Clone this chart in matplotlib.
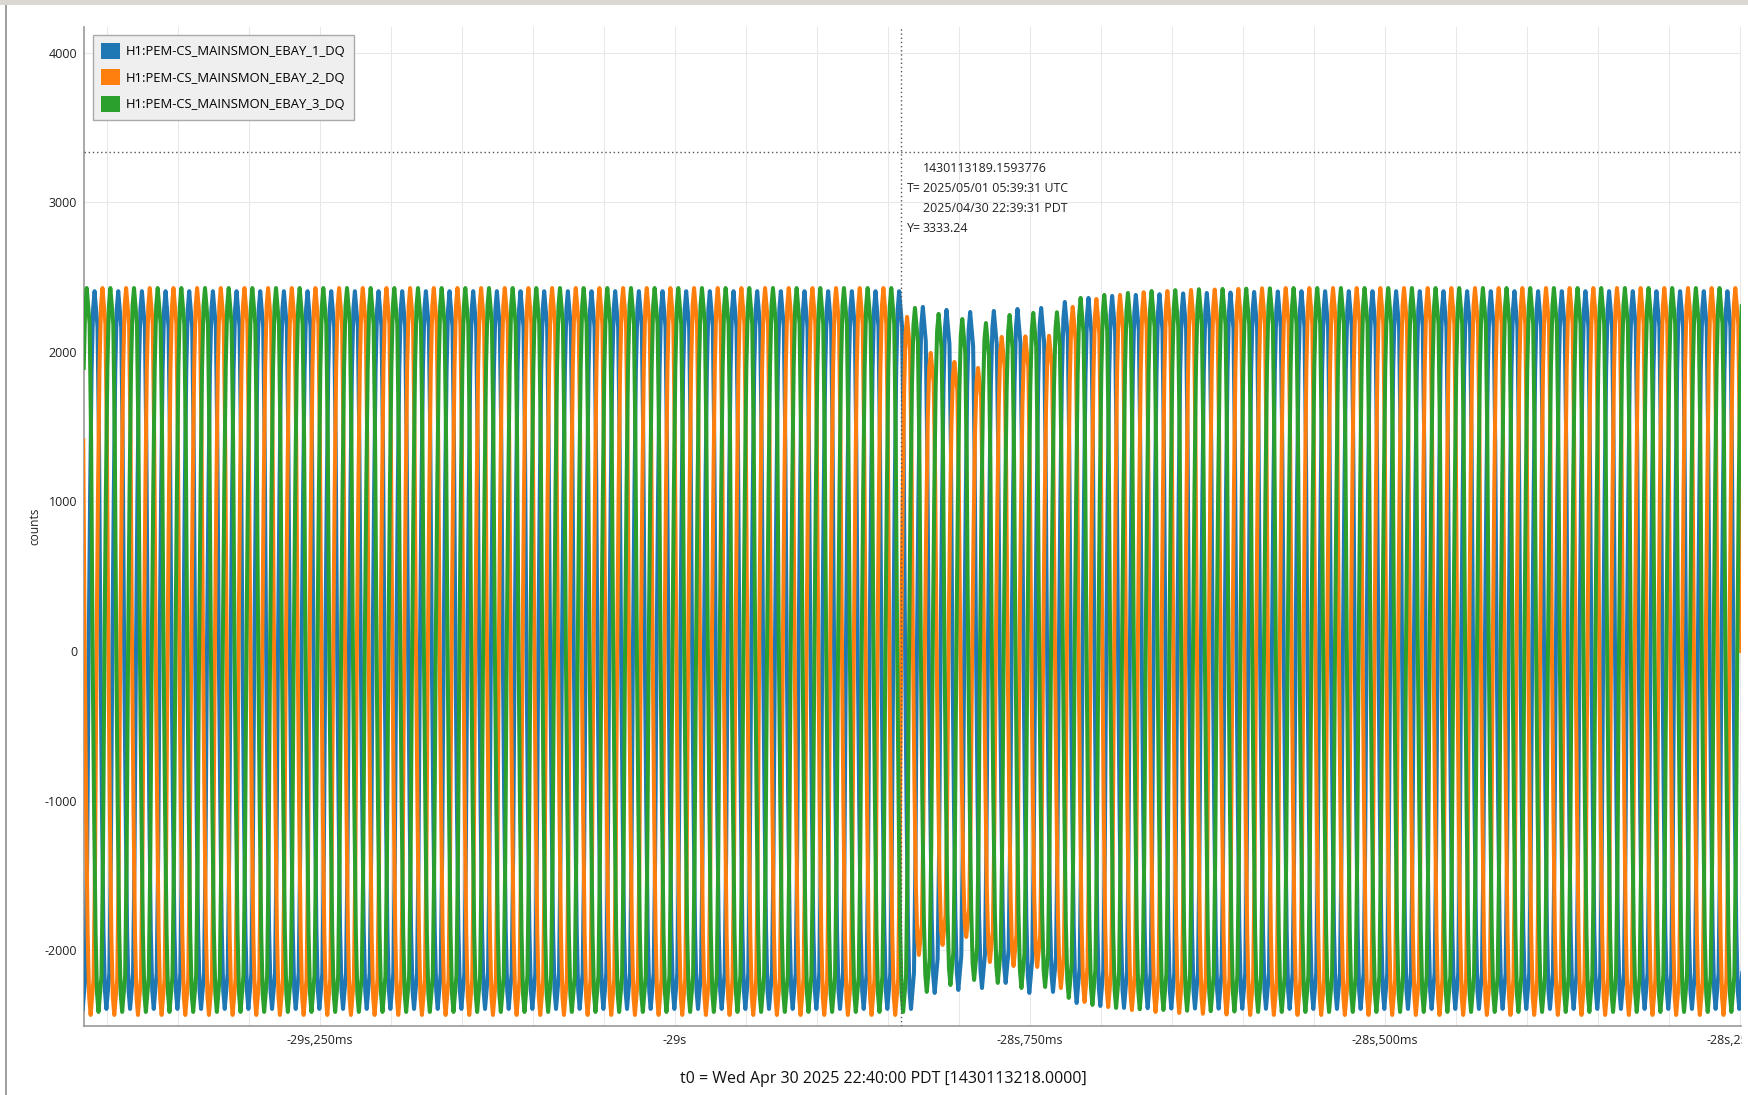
import numpy as np
import matplotlib.pyplot as plt
from matplotlib.patches import Patch, Rectangle
from matplotlib.ticker import FixedLocator, MultipleLocator
from matplotlib.transforms import Bbox, TransformedBbox

plt.rcParams['font.family'] = ['Open Sans', 'DejaVu Sans']
plt.rcParams['axes.unicode_minus'] = False

channels = ['H1:PEM-CS_MAINSMON_EBAY_1_DQ',
            'H1:PEM-CS_MAINSMON_EBAY_2_DQ',
            'H1:PEM-CS_MAINSMON_EBAY_3_DQ']
colors = ['#1f77b4', '#ff7f0e', '#2ca02c']

t0_gps = 1430113218.0
cursor_gps = 1430113189.1593776
cursor_y = 3333.24

# mains cycle, shape of one cycle (16 samples, peak = 1)
mains_hz = 60.0
cycle_shape = [0.0, 0.44, 0.78, 0.95, 1.0, 0.95, 0.90, 0.58,
               0.0, -0.44, -0.78, -0.95, -1.0, -0.95, -0.90, -0.58]

# first upward crossing of EBAY_2 inside the dip (s rel. t0), lag of each channel in cycles
dip_start = -28.8405
lag = [2 / 3, 0.0, 1 / 3]
cycles_before = 36
cycles_after = 36

# steady peak / trough levels (counts)
steady_peak = [2405, 2426, 2426]
steady_trough = [-2393, -2433, -2413]

# per-cycle peaks and troughs through the dip, read cycle by cycle
dip_peak_1 = [2300, 2280, 2266, 2273, 2286, 2293, 2333, 2360, 2373, 2380, 2385, 2390, 2393, 2396, 2400, 2403]
dip_peak_2 = [2233, 1992, 1932, 1892, 2099, 2103, 2107, 2300, 2353, 2380, 2398, 2406, 2413, 2416, 2420, 2424]
dip_peak_3 = [2293, 2253, 2219, 2192, 2246, 2260, 2264, 2360, 2380, 2393, 2406, 2412, 2418, 2420, 2422, 2424]
dip_trough_1 = [-2286, -2266, -2253, -2219, -2286, -2279, -2353, -2373, -2386, -2388, -2390, -2390, -2391, -2392, -2392, -2393]
dip_trough_2 = [-2032, -1965, -1912, -2079, -2106, -2112, -2253, -2346, -2380, -2400, -2413, -2420, -2425, -2430, -2433, -2433]
dip_trough_3 = [-2279, -2233, -2199, -2219, -2253, -2246, -2319, -2366, -2386, -2395, -2400, -2405, -2408, -2410, -2413, -2413]

dip_peaks = [dip_peak_1, dip_peak_2, dip_peak_3]
dip_troughs = [dip_trough_1, dip_trough_2, dip_trough_3]

xticks = [-29.25, -29.0, -28.75, -28.5, -28.25]
xlabels = ['-29s,250ms', '-29s', '-28s,750ms', '-28s,500ms', '-28s,250ms']
yticks = [-2000, -1000, 0, 1000, 2000, 3000, 4000]


def build(c):
    ts, vs = [], []
    n = len(cycle_shape)
    for k in range(-cycles_before, cycles_after):
        if 0 <= k < len(dip_peaks[c]):
            pk, tr = dip_peaks[c][k], dip_troughs[c][k]
        else:
            pk, tr = steady_peak[c], steady_trough[c]
        for i, s in enumerate(cycle_shape):
            ts.append(dip_start + (k + lag[c] + i / n) / mains_hz)
            vs.append(s * pk if s >= 0 else -s * tr)
    return np.array(ts), np.array(vs)


W, H = 1748, 1095
fig = plt.figure(figsize=(W / 100, H / 100), dpi=100)
ax = fig.add_axes([84 / W, 1 - 1026 / H, (1741 - 84) / W, (1026 - 27) / H])

for c in range(3):
    t, v = build(c)
    ax.plot(t, v, color=colors[c], lw=2.9, zorder=3)

ax.set_xlim(-29.416, -28.249)
ax.set_ylim(-2507, 4171)

ax.xaxis.set_major_locator(FixedLocator(xticks))
ax.set_xticklabels(xlabels)
ax.xaxis.set_minor_locator(MultipleLocator(0.05))
ax.set_yticks(yticks)
ax.set_yticklabels([str(y) for y in yticks])
ax.tick_params(axis='both', which='both', length=0, labelsize=9, colors='#222222')
ax.tick_params(axis='x', pad=6)
ax.tick_params(axis='y', pad=5)
ax.grid(True, which='both', color='#e8e8e8', lw=0.75, zorder=0)
ax.set_axisbelow(True)
for side in ['top', 'right']:
    ax.spines[side].set_visible(False)
for side in ['left', 'bottom']:
    ax.spines[side].set_color('#999999')
    ax.spines[side].set_linewidth(1.2)

# the last time label is cut at the plot's right edge, as in the viewer
clip = TransformedBbox(Bbox([[0, 0], [1742 / W, 1]]), fig.transFigure)
for lab in ax.get_xticklabels():
    lab.set_clip_on(True)
    lab.set_clip_box(clip)

# cursor
cursor_t = cursor_gps - t0_gps
ax.axvline(cursor_t, color='#555555', lw=1, ls=(0, (1, 2)), zorder=4)
ax.axhline(cursor_y, color='#555555', lw=1, ls=(0, (1, 2)), zorder=4)
rows = [('', '%.7f' % cursor_gps),
        ('T=', '2025/05/01 05:39:31 UTC'),
        ('', '2025/04/30 22:39:31 PDT'),
        ('Y=', '%.2f' % cursor_y)]
for r, (key, val) in enumerate(rows):
    dy = -16 - 20 * r
    if key:
        ax.annotate(key, (cursor_t, cursor_y), xytext=(6, dy), textcoords='offset pixels',
                    ha='left', va='center', fontsize=8.9, color='#222222')
    ax.annotate(val, (cursor_t, cursor_y), xytext=(22, dy), textcoords='offset pixels',
                ha='left', va='center', fontsize=8.9, color='#222222')

handles = [Patch(facecolor=col, edgecolor='none') for col in colors]
leg = ax.legend(handles, channels, loc='upper left', bbox_to_anchor=(0.0054, 0.992),
                borderaxespad=0, fontsize=9.4, handlelength=1.5, handleheight=1.5,
                handletextpad=0.45, labelspacing=0.82, borderpad=0.6, fancybox=False,
                framealpha=1, facecolor='#efefef', edgecolor='#aaaaaa')
leg.get_frame().set_linewidth(1)
leg.set_zorder(5)

fig.text(35 / W, 1 - 526 / H, 'counts', rotation=90, ha='center', va='center',
         fontsize=8.6, color='#222222')
fig.text(883 / W, 1 - 1079 / H, 't0 = Wed Apr 30 2025 22:40:00 PDT [1430113218.0000]',
         ha='center', va='center', fontsize=11.5, color='#111111')

# window frame
fig.patches.append(Rectangle((0, 1 - 5 / H), 1, 5 / H, transform=fig.transFigure,
                             facecolor='#dbd7d3', edgecolor='none'))
fig.patches.append(Rectangle((5 / W, 0), 2 / W, 1 - 5 / H, transform=fig.transFigure,
                             facecolor='#a0a0a0', edgecolor='none'))

fig.savefig('out.png', dpi=100)
